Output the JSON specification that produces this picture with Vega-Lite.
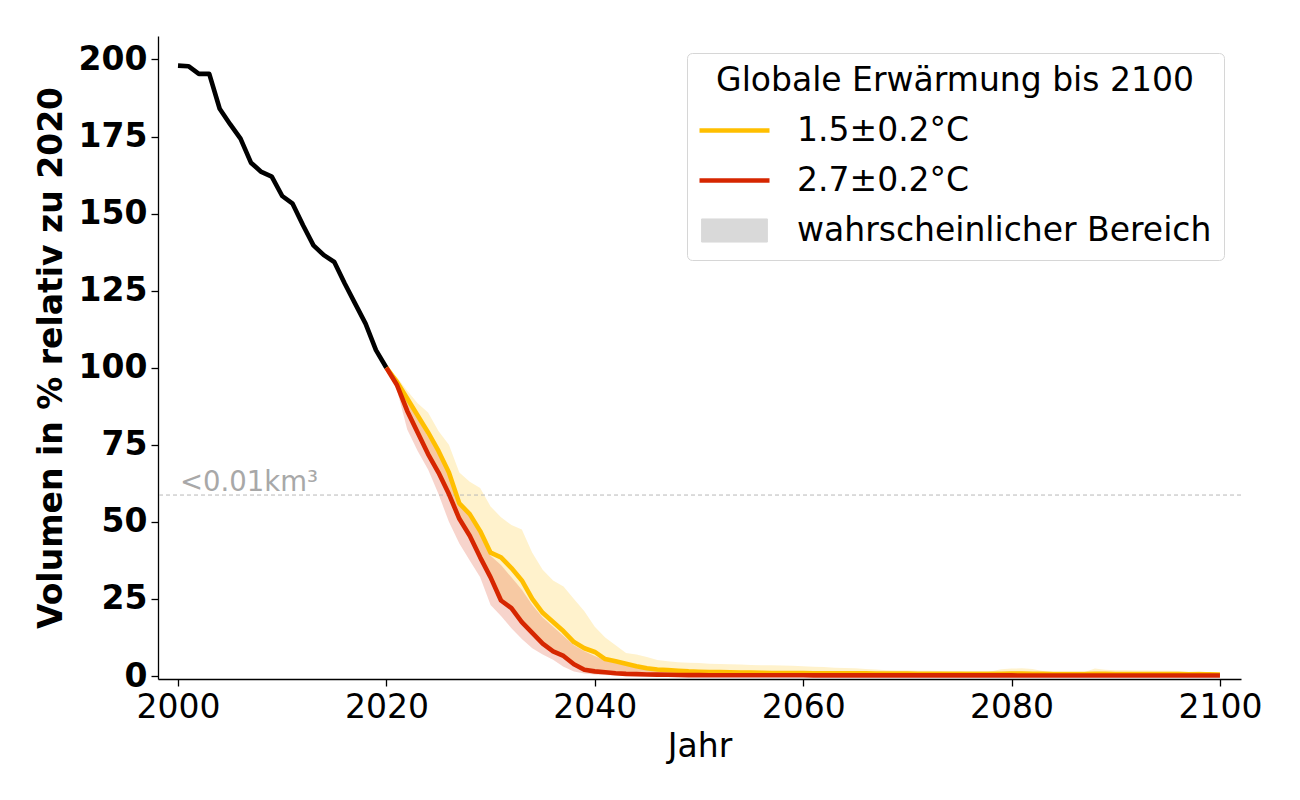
{
  "$schema": "https://vega.github.io/schema/vega-lite/v6.json",
  "width": 1083,
  "height": 643,
  "autosize": {"type": "none"},
  "padding": {"left": 158, "top": 36, "right": 59, "bottom": 121},
  "config": {
    "view": {"stroke": null},
    "font": "DejaVu Sans",
    "axis": {"grid": false, "domainColor": "black", "domainWidth": 1.3, "tickColor": "black", "tickWidth": 1.3, "tickSize": 7, "labelColor": "black", "titleColor": "black", "labelFont": "DejaVu Sans", "titleFont": "DejaVu Sans", "labelFontSize": 33, "titleFontSize": 33}
  },
  "datasets": {
    "hist": [
      {"t": 2000, "v": 198}, {"t": 2001, "v": 197.8}, {"t": 2002, "v": 195.3}, {"t": 2003, "v": 195.3},
      {"t": 2004, "v": 184}, {"t": 2005, "v": 179}, {"t": 2006, "v": 174.3}, {"t": 2007, "v": 166.5},
      {"t": 2008, "v": 163.5}, {"t": 2009, "v": 162}, {"t": 2010, "v": 155.7}, {"t": 2011, "v": 153.2},
      {"t": 2012, "v": 146.2}, {"t": 2013, "v": 139.7}, {"t": 2014, "v": 136.5}, {"t": 2015, "v": 134.3},
      {"t": 2016, "v": 127.3}, {"t": 2017, "v": 120.8}, {"t": 2018, "v": 114.3}, {"t": 2019, "v": 105.7},
      {"t": 2020, "v": 100}
    ],
    "marker": [{"label": "<0.01km³", "t": 2000, "v": 58.7}],
    "proj": [
      {"s": "1.5±0.2°C", "t": 2020, "v": 100, "lo": 100, "hi": 100},
      {"s": "1.5±0.2°C", "t": 2021, "v": 95.5, "lo": 94.5, "hi": 97},
      {"s": "1.5±0.2°C", "t": 2022, "v": 90, "lo": 85.5, "hi": 92.5},
      {"s": "1.5±0.2°C", "t": 2023, "v": 84.5, "lo": 78.5, "hi": 88.5},
      {"s": "1.5±0.2°C", "t": 2024, "v": 79, "lo": 71.5, "hi": 85.5},
      {"s": "1.5±0.2°C", "t": 2025, "v": 73, "lo": 65, "hi": 79.5},
      {"s": "1.5±0.2°C", "t": 2026, "v": 66, "lo": 58, "hi": 75},
      {"s": "1.5±0.2°C", "t": 2027, "v": 56, "lo": 50.5, "hi": 66},
      {"s": "1.5±0.2°C", "t": 2028, "v": 52.5, "lo": 45, "hi": 63},
      {"s": "1.5±0.2°C", "t": 2029, "v": 47, "lo": 38, "hi": 61},
      {"s": "1.5±0.2°C", "t": 2030, "v": 40, "lo": 31.5, "hi": 55},
      {"s": "1.5±0.2°C", "t": 2031, "v": 38.5, "lo": 24, "hi": 51.5},
      {"s": "1.5±0.2°C", "t": 2032, "v": 35, "lo": 21.5, "hi": 49},
      {"s": "1.5±0.2°C", "t": 2033, "v": 31, "lo": 17, "hi": 47.5},
      {"s": "1.5±0.2°C", "t": 2034, "v": 25, "lo": 13.5, "hi": 40},
      {"s": "1.5±0.2°C", "t": 2035, "v": 20.5, "lo": 10, "hi": 34.5},
      {"s": "1.5±0.2°C", "t": 2036, "v": 17.5, "lo": 7.5, "hi": 31},
      {"s": "1.5±0.2°C", "t": 2037, "v": 14.5, "lo": 6, "hi": 29},
      {"s": "1.5±0.2°C", "t": 2038, "v": 11, "lo": 3.5, "hi": 25},
      {"s": "1.5±0.2°C", "t": 2039, "v": 9, "lo": 2, "hi": 21},
      {"s": "1.5±0.2°C", "t": 2040, "v": 7.8, "lo": 1.4, "hi": 16},
      {"s": "1.5±0.2°C", "t": 2041, "v": 5.5, "lo": 1.1, "hi": 12.5},
      {"s": "1.5±0.2°C", "t": 2042, "v": 4.8, "lo": 0.8, "hi": 10},
      {"s": "1.5±0.2°C", "t": 2043, "v": 4, "lo": 0.6, "hi": 7.5},
      {"s": "1.5±0.2°C", "t": 2044, "v": 3.2, "lo": 0.5, "hi": 7},
      {"s": "1.5±0.2°C", "t": 2045, "v": 2.5, "lo": 0.4, "hi": 6.2},
      {"s": "1.5±0.2°C", "t": 2046, "v": 2.1, "lo": 0.35, "hi": 5.2},
      {"s": "1.5±0.2°C", "t": 2047, "v": 1.9, "lo": 0.3, "hi": 4.8},
      {"s": "1.5±0.2°C", "t": 2048, "v": 1.7, "lo": 0.3, "hi": 4.5},
      {"s": "1.5±0.2°C", "t": 2049, "v": 1.5, "lo": 0.25, "hi": 4.3},
      {"s": "1.5±0.2°C", "t": 2050, "v": 1.4, "lo": 0.25, "hi": 4.2},
      {"s": "1.5±0.2°C", "t": 2051, "v": 1.3, "lo": 0.2, "hi": 4.0},
      {"s": "1.5±0.2°C", "t": 2052, "v": 1.25, "lo": 0.2, "hi": 3.9},
      {"s": "1.5±0.2°C", "t": 2053, "v": 1.2, "lo": 0.2, "hi": 3.8},
      {"s": "1.5±0.2°C", "t": 2054, "v": 1.15, "lo": 0.2, "hi": 3.7},
      {"s": "1.5±0.2°C", "t": 2055, "v": 1.1, "lo": 0.2, "hi": 3.6},
      {"s": "1.5±0.2°C", "t": 2056, "v": 1.05, "lo": 0.2, "hi": 3.5},
      {"s": "1.5±0.2°C", "t": 2057, "v": 1.0, "lo": 0.2, "hi": 3.5},
      {"s": "1.5±0.2°C", "t": 2058, "v": 1.0, "lo": 0.2, "hi": 3.4},
      {"s": "1.5±0.2°C", "t": 2059, "v": 0.95, "lo": 0.2, "hi": 3.3},
      {"s": "1.5±0.2°C", "t": 2060, "v": 0.95, "lo": 0.2, "hi": 3.2},
      {"s": "1.5±0.2°C", "t": 2061, "v": 0.9, "lo": 0.15, "hi": 3.0},
      {"s": "1.5±0.2°C", "t": 2062, "v": 0.9, "lo": 0.15, "hi": 2.9},
      {"s": "1.5±0.2°C", "t": 2063, "v": 0.9, "lo": 0.15, "hi": 2.7},
      {"s": "1.5±0.2°C", "t": 2064, "v": 0.85, "lo": 0.15, "hi": 2.6},
      {"s": "1.5±0.2°C", "t": 2065, "v": 0.85, "lo": 0.15, "hi": 2.5},
      {"s": "1.5±0.2°C", "t": 2066, "v": 0.85, "lo": 0.15, "hi": 2.3},
      {"s": "1.5±0.2°C", "t": 2067, "v": 0.8, "lo": 0.15, "hi": 2.1},
      {"s": "1.5±0.2°C", "t": 2068, "v": 0.8, "lo": 0.15, "hi": 1.9},
      {"s": "1.5±0.2°C", "t": 2069, "v": 0.8, "lo": 0.15, "hi": 1.8},
      {"s": "1.5±0.2°C", "t": 2070, "v": 0.8, "lo": 0.15, "hi": 1.8},
      {"s": "1.5±0.2°C", "t": 2071, "v": 0.75, "lo": 0.15, "hi": 1.7},
      {"s": "1.5±0.2°C", "t": 2072, "v": 0.75, "lo": 0.15, "hi": 1.7},
      {"s": "1.5±0.2°C", "t": 2073, "v": 0.75, "lo": 0.15, "hi": 1.6},
      {"s": "1.5±0.2°C", "t": 2074, "v": 0.75, "lo": 0.15, "hi": 1.5},
      {"s": "1.5±0.2°C", "t": 2075, "v": 0.7, "lo": 0.15, "hi": 1.5},
      {"s": "1.5±0.2°C", "t": 2076, "v": 0.7, "lo": 0.15, "hi": 1.2},
      {"s": "1.5±0.2°C", "t": 2077, "v": 0.7, "lo": 0.15, "hi": 0.9},
      {"s": "1.5±0.2°C", "t": 2078, "v": 0.7, "lo": 0.15, "hi": 1.5},
      {"s": "1.5±0.2°C", "t": 2079, "v": 0.75, "lo": 0.15, "hi": 2.2},
      {"s": "1.5±0.2°C", "t": 2080, "v": 0.8, "lo": 0.15, "hi": 2.4},
      {"s": "1.5±0.2°C", "t": 2081, "v": 0.8, "lo": 0.1, "hi": 2.5},
      {"s": "1.5±0.2°C", "t": 2082, "v": 0.75, "lo": 0.1, "hi": 2.3},
      {"s": "1.5±0.2°C", "t": 2083, "v": 0.7, "lo": 0.1, "hi": 1.6},
      {"s": "1.5±0.2°C", "t": 2084, "v": 0.65, "lo": 0.1, "hi": 1.3},
      {"s": "1.5±0.2°C", "t": 2085, "v": 0.65, "lo": 0.1, "hi": 1.2},
      {"s": "1.5±0.2°C", "t": 2086, "v": 0.65, "lo": 0.1, "hi": 1.2},
      {"s": "1.5±0.2°C", "t": 2087, "v": 0.65, "lo": 0.1, "hi": 1.3},
      {"s": "1.5±0.2°C", "t": 2088, "v": 0.7, "lo": 0.1, "hi": 2.4},
      {"s": "1.5±0.2°C", "t": 2089, "v": 0.7, "lo": 0.1, "hi": 2.0},
      {"s": "1.5±0.2°C", "t": 2090, "v": 0.65, "lo": 0.1, "hi": 1.9},
      {"s": "1.5±0.2°C", "t": 2091, "v": 0.65, "lo": 0.1, "hi": 1.9},
      {"s": "1.5±0.2°C", "t": 2092, "v": 0.6, "lo": 0.1, "hi": 1.8},
      {"s": "1.5±0.2°C", "t": 2093, "v": 0.6, "lo": 0.1, "hi": 1.8},
      {"s": "1.5±0.2°C", "t": 2094, "v": 0.6, "lo": 0.1, "hi": 1.7},
      {"s": "1.5±0.2°C", "t": 2095, "v": 0.6, "lo": 0.1, "hi": 1.7},
      {"s": "1.5±0.2°C", "t": 2096, "v": 0.6, "lo": 0.1, "hi": 1.6},
      {"s": "1.5±0.2°C", "t": 2097, "v": 0.55, "lo": 0.1, "hi": 1.4},
      {"s": "1.5±0.2°C", "t": 2098, "v": 0.55, "lo": 0.1, "hi": 1.6},
      {"s": "1.5±0.2°C", "t": 2099, "v": 0.55, "lo": 0.1, "hi": 1.1},
      {"s": "1.5±0.2°C", "t": 2100, "v": 0.5, "lo": 0.1, "hi": 1.0},
      {"s": "2.7±0.2°C", "t": 2020, "v": 100, "lo": 100, "hi": 100},
      {"s": "2.7±0.2°C", "t": 2021, "v": 94.5, "lo": 93, "hi": 95.5},
      {"s": "2.7±0.2°C", "t": 2022, "v": 86, "lo": 80, "hi": 89},
      {"s": "2.7±0.2°C", "t": 2023, "v": 79, "lo": 73, "hi": 83.5},
      {"s": "2.7±0.2°C", "t": 2024, "v": 72, "lo": 67, "hi": 77.5},
      {"s": "2.7±0.2°C", "t": 2025, "v": 66, "lo": 59, "hi": 72},
      {"s": "2.7±0.2°C", "t": 2026, "v": 59, "lo": 50, "hi": 65},
      {"s": "2.7±0.2°C", "t": 2027, "v": 51, "lo": 43, "hi": 57},
      {"s": "2.7±0.2°C", "t": 2028, "v": 45.5, "lo": 37.5, "hi": 52},
      {"s": "2.7±0.2°C", "t": 2029, "v": 38.5, "lo": 32, "hi": 46},
      {"s": "2.7±0.2°C", "t": 2030, "v": 32, "lo": 23, "hi": 39},
      {"s": "2.7±0.2°C", "t": 2031, "v": 24.5, "lo": 19.5, "hi": 36},
      {"s": "2.7±0.2°C", "t": 2032, "v": 22, "lo": 15.5, "hi": 32},
      {"s": "2.7±0.2°C", "t": 2033, "v": 17.5, "lo": 12, "hi": 28},
      {"s": "2.7±0.2°C", "t": 2034, "v": 14, "lo": 9, "hi": 23},
      {"s": "2.7±0.2°C", "t": 2035, "v": 10.5, "lo": 7, "hi": 19},
      {"s": "2.7±0.2°C", "t": 2036, "v": 8, "lo": 5.3, "hi": 16},
      {"s": "2.7±0.2°C", "t": 2037, "v": 6.5, "lo": 3, "hi": 13},
      {"s": "2.7±0.2°C", "t": 2038, "v": 3.8, "lo": 1.5, "hi": 10},
      {"s": "2.7±0.2°C", "t": 2039, "v": 2, "lo": 0.8, "hi": 8},
      {"s": "2.7±0.2°C", "t": 2040, "v": 1.5, "lo": 0.5, "hi": 6.5},
      {"s": "2.7±0.2°C", "t": 2041, "v": 1.2, "lo": 0.3, "hi": 5},
      {"s": "2.7±0.2°C", "t": 2042, "v": 0.9, "lo": 0.2, "hi": 4.2},
      {"s": "2.7±0.2°C", "t": 2043, "v": 0.7, "lo": 0.1, "hi": 3.5},
      {"s": "2.7±0.2°C", "t": 2044, "v": 0.6, "lo": 0.1, "hi": 2.8},
      {"s": "2.7±0.2°C", "t": 2045, "v": 0.5, "lo": 0.05, "hi": 2.2},
      {"s": "2.7±0.2°C", "t": 2046, "v": 0.45, "lo": 0.05, "hi": 1.8},
      {"s": "2.7±0.2°C", "t": 2047, "v": 0.4, "lo": 0.05, "hi": 1.6},
      {"s": "2.7±0.2°C", "t": 2048, "v": 0.35, "lo": 0.05, "hi": 1.4},
      {"s": "2.7±0.2°C", "t": 2049, "v": 0.3, "lo": 0, "hi": 1.25},
      {"s": "2.7±0.2°C", "t": 2050, "v": 0.3, "lo": 0, "hi": 1.15},
      {"s": "2.7±0.2°C", "t": 2051, "v": 0.25, "lo": 0, "hi": 1.1},
      {"s": "2.7±0.2°C", "t": 2052, "v": 0.25, "lo": 0, "hi": 1.05},
      {"s": "2.7±0.2°C", "t": 2053, "v": 0.25, "lo": 0, "hi": 1.0},
      {"s": "2.7±0.2°C", "t": 2054, "v": 0.25, "lo": 0, "hi": 0.95},
      {"s": "2.7±0.2°C", "t": 2055, "v": 0.25, "lo": 0, "hi": 0.9},
      {"s": "2.7±0.2°C", "t": 2056, "v": 0.25, "lo": 0, "hi": 0.9},
      {"s": "2.7±0.2°C", "t": 2057, "v": 0.25, "lo": 0, "hi": 0.88},
      {"s": "2.7±0.2°C", "t": 2058, "v": 0.25, "lo": 0, "hi": 0.86},
      {"s": "2.7±0.2°C", "t": 2059, "v": 0.25, "lo": 0, "hi": 0.85},
      {"s": "2.7±0.2°C", "t": 2060, "v": 0.25, "lo": 0, "hi": 0.85},
      {"s": "2.7±0.2°C", "t": 2061, "v": 0.2, "lo": 0, "hi": 0.82},
      {"s": "2.7±0.2°C", "t": 2062, "v": 0.2, "lo": 0, "hi": 0.81},
      {"s": "2.7±0.2°C", "t": 2063, "v": 0.2, "lo": 0, "hi": 0.8},
      {"s": "2.7±0.2°C", "t": 2064, "v": 0.2, "lo": 0, "hi": 0.8},
      {"s": "2.7±0.2°C", "t": 2065, "v": 0.2, "lo": 0, "hi": 0.79},
      {"s": "2.7±0.2°C", "t": 2066, "v": 0.2, "lo": 0, "hi": 0.78},
      {"s": "2.7±0.2°C", "t": 2067, "v": 0.2, "lo": 0, "hi": 0.78},
      {"s": "2.7±0.2°C", "t": 2068, "v": 0.2, "lo": 0, "hi": 0.77},
      {"s": "2.7±0.2°C", "t": 2069, "v": 0.2, "lo": 0, "hi": 0.76},
      {"s": "2.7±0.2°C", "t": 2070, "v": 0.2, "lo": 0, "hi": 0.75},
      {"s": "2.7±0.2°C", "t": 2071, "v": 0.2, "lo": 0, "hi": 0.75},
      {"s": "2.7±0.2°C", "t": 2072, "v": 0.2, "lo": 0, "hi": 0.74},
      {"s": "2.7±0.2°C", "t": 2073, "v": 0.2, "lo": 0, "hi": 0.74},
      {"s": "2.7±0.2°C", "t": 2074, "v": 0.2, "lo": 0, "hi": 0.73},
      {"s": "2.7±0.2°C", "t": 2075, "v": 0.2, "lo": 0, "hi": 0.73},
      {"s": "2.7±0.2°C", "t": 2076, "v": 0.2, "lo": 0, "hi": 0.72},
      {"s": "2.7±0.2°C", "t": 2077, "v": 0.2, "lo": 0, "hi": 0.72},
      {"s": "2.7±0.2°C", "t": 2078, "v": 0.2, "lo": 0, "hi": 0.71},
      {"s": "2.7±0.2°C", "t": 2079, "v": 0.2, "lo": 0, "hi": 0.71},
      {"s": "2.7±0.2°C", "t": 2080, "v": 0.2, "lo": 0, "hi": 0.7},
      {"s": "2.7±0.2°C", "t": 2081, "v": 0.15, "lo": 0, "hi": 0.7},
      {"s": "2.7±0.2°C", "t": 2082, "v": 0.15, "lo": 0, "hi": 0.69},
      {"s": "2.7±0.2°C", "t": 2083, "v": 0.15, "lo": 0, "hi": 0.69},
      {"s": "2.7±0.2°C", "t": 2084, "v": 0.15, "lo": 0, "hi": 0.68},
      {"s": "2.7±0.2°C", "t": 2085, "v": 0.15, "lo": 0, "hi": 0.68},
      {"s": "2.7±0.2°C", "t": 2086, "v": 0.15, "lo": 0, "hi": 0.67},
      {"s": "2.7±0.2°C", "t": 2087, "v": 0.15, "lo": 0, "hi": 0.67},
      {"s": "2.7±0.2°C", "t": 2088, "v": 0.15, "lo": 0, "hi": 0.66},
      {"s": "2.7±0.2°C", "t": 2089, "v": 0.15, "lo": 0, "hi": 0.66},
      {"s": "2.7±0.2°C", "t": 2090, "v": 0.15, "lo": 0, "hi": 0.65},
      {"s": "2.7±0.2°C", "t": 2091, "v": 0.15, "lo": 0, "hi": 0.65},
      {"s": "2.7±0.2°C", "t": 2092, "v": 0.15, "lo": 0, "hi": 0.64},
      {"s": "2.7±0.2°C", "t": 2093, "v": 0.15, "lo": 0, "hi": 0.64},
      {"s": "2.7±0.2°C", "t": 2094, "v": 0.15, "lo": 0, "hi": 0.63},
      {"s": "2.7±0.2°C", "t": 2095, "v": 0.15, "lo": 0, "hi": 0.63},
      {"s": "2.7±0.2°C", "t": 2096, "v": 0.15, "lo": 0, "hi": 0.62},
      {"s": "2.7±0.2°C", "t": 2097, "v": 0.15, "lo": 0, "hi": 0.62},
      {"s": "2.7±0.2°C", "t": 2098, "v": 0.15, "lo": 0, "hi": 0.61},
      {"s": "2.7±0.2°C", "t": 2099, "v": 0.15, "lo": 0, "hi": 0.61},
      {"s": "2.7±0.2°C", "t": 2100, "v": 0.15, "lo": 0, "hi": 0.6}
    ]
  },
  "layer": [
    {
      "data": {"name": "proj"},
      "mark": {"type": "area", "fillOpacity": 0.2, "interpolate": "linear"},
      "encoding": {
        "x": {"field": "t", "type": "quantitative", "scale": {"domain": [1998.08, 2102.02], "nice": false, "zero": false},
              "axis": {"title": "Jahr", "values": [2000, 2020, 2040, 2060, 2080, 2100], "format": "d", "labelPadding": 5, "titlePadding": 6, "titleFontWeight": "normal", "labelFontWeight": "normal"}},
        "y": {"field": "lo", "type": "quantitative", "scale": {"domain": [-0.97, 207.6], "nice": false, "zero": false},
              "axis": {"title": "Volumen in % relativ zu 2020", "values": [0, 25, 50, 75, 100, 125, 150, 175, 200], "labelFontWeight": "bold", "titleFontWeight": "bold", "labelPadding": 4, "titlePadding": 10}},
        "y2": {"field": "hi"},
        "fill": {"field": "s", "type": "nominal", "scale": {"domain": ["1.5±0.2°C", "2.7±0.2°C"], "range": ["#FFBF00", "#D62600"]}, "legend": null}
      }
    },
    {
      "data": {"name": "marker"},
      "mark": {"type": "rule", "stroke": "#b8b8b8", "strokeWidth": 1, "strokeDash": [4, 3]},
      "encoding": {"y": {"field": "v", "type": "quantitative"}}
    },
    {
      "data": {"name": "marker"},
      "mark": {"type": "text", "align": "left", "baseline": "alphabetic", "dx": 2, "dy": -4, "fontSize": 27.5, "color": "#a8a8a8", "font": "DejaVu Sans"},
      "encoding": {"x": {"field": "t", "type": "quantitative"}, "y": {"field": "v", "type": "quantitative"}, "text": {"field": "label"}}
    },
    {
      "data": {"name": "hist"},
      "mark": {"type": "line", "color": "black", "strokeWidth": 4.6, "strokeJoin": "round"},
      "encoding": {
        "x": {"field": "t", "type": "quantitative"},
        "y": {"field": "v", "type": "quantitative"}
      }
    },
    {
      "data": {"name": "proj"},
      "mark": {"type": "line", "strokeWidth": 4.6, "strokeJoin": "round"},
      "encoding": {
        "x": {"field": "t", "type": "quantitative"},
        "y": {"field": "v", "type": "quantitative"},
        "color": {"field": "s", "type": "nominal",
          "scale": {"domain": ["1.5±0.2°C", "2.7±0.2°C", "wahrscheinlicher Bereich"], "range": ["#FFBF00", "#D62600", "#d9d9d9"]},
          "legend": {
            "title": "Globale Erwärmung bis 2100",
            "orient": "top-right",
            "offset": 17,
            "padding": 12,
            "fillColor": "white",
            "strokeColor": "#d6d6d6",
            "cornerRadius": 5,
            "titleFont": "DejaVu Sans",
            "titleFontSize": 33,
            "titleFontWeight": "normal",
            "titleColor": "black",
            "titleAnchor": "middle",
            "titleLimit": 800,
            "titlePadding": 16,
            "labelFont": "DejaVu Sans",
            "labelFontSize": 33,
            "labelColor": "black",
            "labelOffset": 46,
            "labelLimit": 800,
            "rowPadding": 16,
            "symbolSize": 4900,
            "symbolOffset": 19,
            "symbolStrokeWidth": 4.6,
            "encode": {
              "symbols": {
                "update": {
                  "shape": {"signal": "datum.value === 'wahrscheinlicher Bereich' ? 'M-0.94,-0.33H0.94V0.33H-0.94Z' : 'M-1,0H1'"},
                  "fill": {"signal": "datum.value === 'wahrscheinlicher Bereich' ? '#d9d9d9' : 'transparent'"},
                  "stroke": {"signal": "datum.value === 'wahrscheinlicher Bereich' ? '#c6c6c6' : (datum.value === '1.5±0.2°C' ? '#FFBF00' : '#D62600')"},
                  "strokeWidth": {"signal": "datum.value === 'wahrscheinlicher Bereich' ? 1 : 4.6"}
                }
              }
            }
          }
        }
      }
    }
  ]
}
